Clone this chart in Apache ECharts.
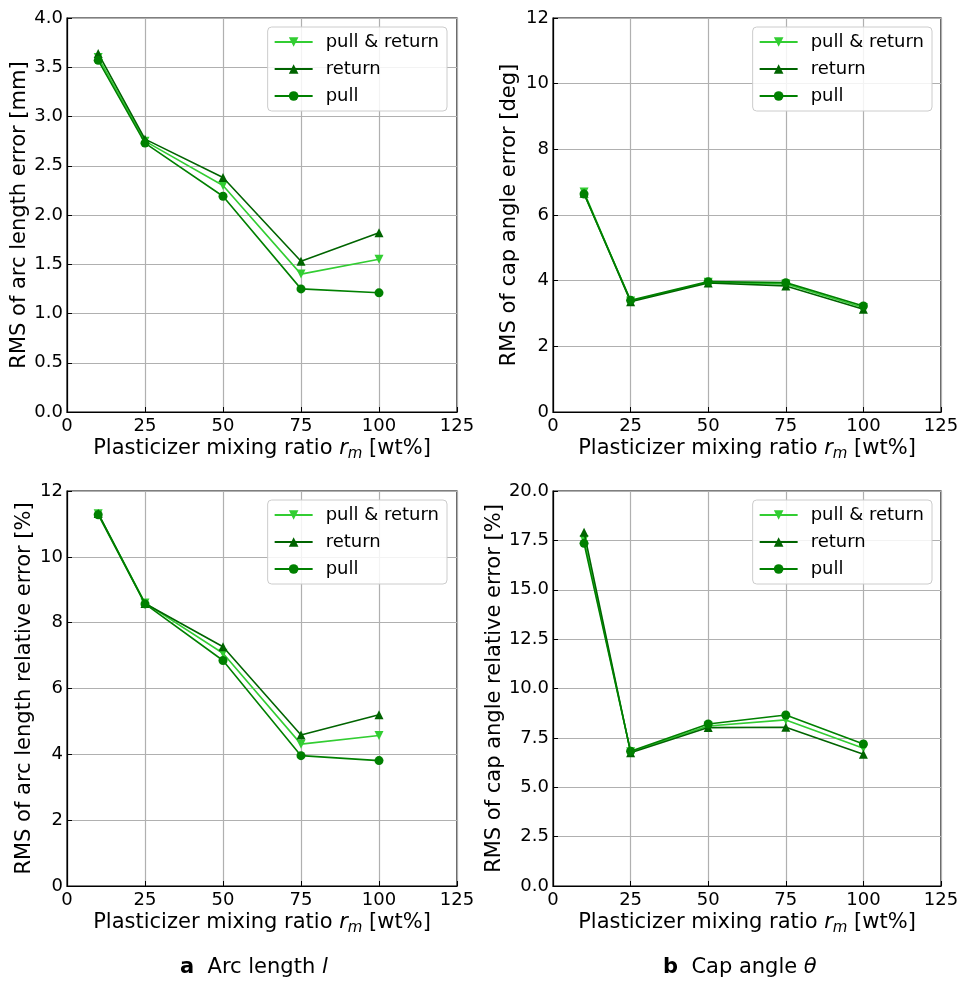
<!DOCTYPE html>
<html>
<head>
<meta charset="utf-8">
<script src="https://cdn.jsdelivr.net/npm/echarts@6/dist/echarts.min.js"></script>
<style>
html,body{margin:0;padding:0;background:#fff;}
#chart{width:969px;height:991px;}
</style>
</head>
<body>
<div id="chart"></div>
<script>
// ---- data ----
const ratios = [10, 25, 50, 75, 100];
const seriesNames = ['pull & return', 'return', 'pull'];

// a (top): RMS of arc length error [mm]
const arcErr_pullReturn = [3.60, 2.75, 2.30, 1.40, 1.55];
const arcErr_return     = [3.64, 2.77, 2.38, 1.53, 1.82];
const arcErr_pull       = [3.57, 2.73, 2.19, 1.25, 1.21];

// b (top): RMS of cap angle error [deg]
const capErr_pullReturn = [6.70, 3.38, 3.95, 3.90, 3.18];
const capErr_return     = [6.66, 3.36, 3.93, 3.84, 3.13];
const capErr_pull       = [6.64, 3.40, 3.97, 3.94, 3.23];

// a (bottom): RMS of arc length relative error [%]
const arcRel_pullReturn = [11.31, 8.60, 7.07, 4.31, 4.57];
const arcRel_return     = [11.32, 8.58, 7.27, 4.59, 5.20];
const arcRel_pull       = [11.28, 8.57, 6.85, 3.96, 3.81];

// b (bottom): RMS of cap angle relative error [%]
const capRel_pullReturn = [17.55, 6.80, 8.10, 8.41, 6.97];
const capRel_return     = [17.91, 6.75, 8.02, 8.04, 6.67];
const capRel_pull       = [17.35, 6.82, 8.20, 8.66, 7.19];

const xTicks = [0, 25, 50, 75, 100, 125];

// ---- styles ----
const FONT = 'DejaVu Sans';
const colors = {'pull & return': '#32cd32', 'return': '#006400', 'pull': '#008000'};
const symbols = {'pull & return': ['triangle', 180], 'return': ['triangle', 0], 'pull': ['circle', 0]};

const grids = [
  {left: 67, top: 18, width: 390, height: 394},
  {left: 553, top: 18, width: 388, height: 394},
  {left: 67, top: 491, width: 390, height: 395},
  {left: 553, top: 491, width: 388, height: 395}
];
const yNameGaps = [36, 33, 32, 41];
const panels = [
  {data: [arcErr_pullReturn, arcErr_return, arcErr_pull], max: 4, interval: 0.5, dec: 1, name: 'RMS of arc length error [mm]'},
  {data: [capErr_pullReturn, capErr_return, capErr_pull], max: 12, interval: 2, dec: 0, name: 'RMS of cap angle error [deg]'},
  {data: [arcRel_pullReturn, arcRel_return, arcRel_pull], max: 12, interval: 2, dec: 0, name: 'RMS of arc length relative error [%]'},
  {data: [capRel_pullReturn, capRel_return, capRel_pull], max: 20, interval: 2.5, dec: 1, name: 'RMS of cap angle relative error [%]'}
];

const xAxes = [], yAxes = [], series = [], legends = [];
panels.forEach((p, i) => {
  xAxes.push({
    type: 'value', gridIndex: i, min: xTicks[0], max: xTicks[xTicks.length - 1], interval: 25,
    name: 'Plasticizer mixing ratio {i|r}{s|m} [wt%]',
    nameLocation: 'middle', nameGap: 26,
    nameTextStyle: {fontFamily: FONT, fontSize: 21, color: '#000',
      rich: {i: {fontFamily: FONT, fontSize: 21, fontStyle: 'italic', color: '#000'},
             s: {fontFamily: FONT, fontSize: 15, fontStyle: 'italic', color: '#000', verticalAlign: 'bottom', lineHeight: 15, padding: [0, 0, -3, 0]}}},
    axisLine: {show: true, onZero: false, lineStyle: {color: '#000', width: 1.2}},
    axisTick: {show: true, inside: true, length: 5, lineStyle: {color: '#000'}},
    axisLabel: {fontFamily: FONT, fontSize: 18, color: '#000', margin: 5},
    splitLine: {show: true, lineStyle: {color: '#b0b0b0', width: 1.2}}
  });
  yAxes.push({
    type: 'value', gridIndex: i, min: 0, max: p.max, interval: p.interval,
    name: p.name, nameLocation: 'middle', nameGap: yNameGaps[i],
    nameTextStyle: {fontFamily: FONT, fontSize: 21, color: '#000'},
    axisLine: {show: true, onZero: false, lineStyle: {color: '#000', width: 1.2}},
    axisTick: {show: true, inside: true, length: 5, lineStyle: {color: '#000'}},
    axisLabel: {fontFamily: FONT, fontSize: 18, color: '#000', margin: 4,
      formatter: v => v.toFixed(p.dec)},
    splitLine: {show: true, lineStyle: {color: '#b0b0b0', width: 1.2}}
  });
  seriesNames.forEach((n, k) => {
    series.push({
      type: 'line', name: n, xAxisIndex: i, yAxisIndex: i,
      data: ratios.map((x, j) => [x, p.data[k][j]]),
      symbol: symbols[n][0], symbolRotate: symbols[n][1], symbolSize: 9,
      showAllSymbol: true,
      lineStyle: {color: colors[n], width: 1.6},
      itemStyle: {color: colors[n]},
      emphasis: {disabled: true},
      animation: false, z: 3 + k
    });
  });
  legends.push({
    data: seriesNames, orient: 'vertical',
    right: i % 2 === 0 ? 522 : 37, top: i < 2 ? 27 : 500,
    itemWidth: 38, itemHeight: 12, itemGap: 9,
    padding: [6, 8, 6, 6],
    backgroundColor: 'rgba(255,255,255,0.85)', borderColor: '#cccccc', borderWidth: 1, borderRadius: 4,
    textStyle: {fontFamily: FONT, fontSize: 18, color: '#000', padding: [0, 0, 0, 8]},
    selectedMode: false
  });
});

const capStyle = {fontFamily: FONT, fontSize: 21, fontWeight: 'normal', color: '#000',
  rich: {b: {fontFamily: FONT, fontSize: 21, fontWeight: 'bold', color: '#000'},
         i: {fontFamily: FONT, fontSize: 21, fontStyle: 'italic', color: '#000'}}};

const chart = echarts.init(document.getElementById('chart'), null, {renderer: 'canvas'});
chart.setOption({
  backgroundColor: '#fff',
  animation: false,
  grid: grids.map(g => Object.assign({show: true, borderColor: '#000', borderWidth: 1.2, backgroundColor: 'transparent', containLabel: false}, g)),
  xAxis: xAxes,
  yAxis: yAxes,
  legend: legends,
  title: [
    {text: '{b|a}  Arc length {i|l}', left: 180, top: 957, padding: 0, textStyle: capStyle},
    {text: '{b|b}  Cap angle {i|θ}', left: 663, top: 957, padding: 0, textStyle: capStyle}
  ],
  series: series
});
</script>
</body>
</html>
